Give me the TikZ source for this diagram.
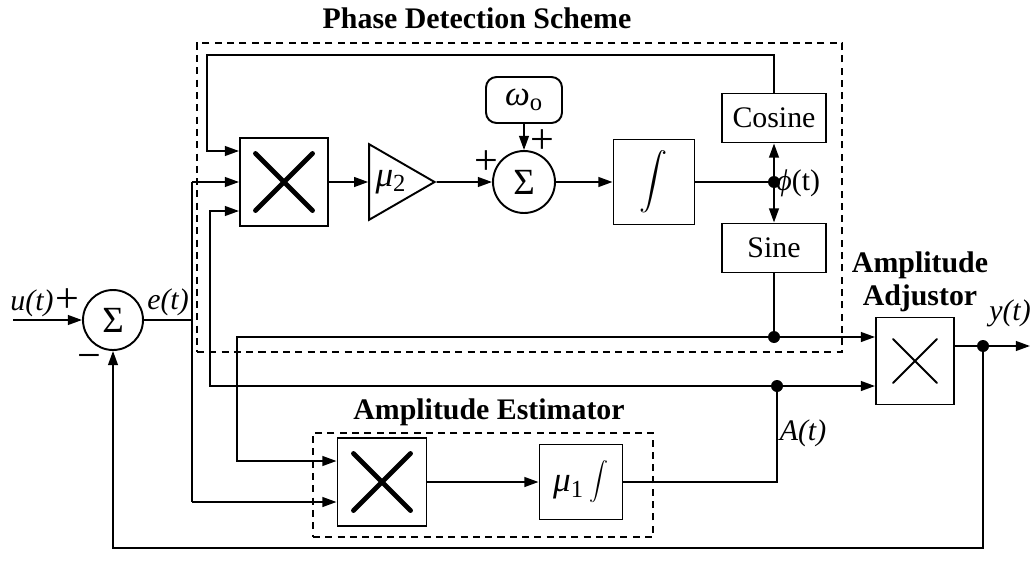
\documentclass[tikz,border=0pt]{standalone}
\usepackage{graphicx}
\usepackage{fontspec}
\setmainfont{Liberation Serif}
\usetikzlibrary{shapes.geometric,arrows.meta,fit,positioning,calc}
\tikzset{
  block/.style={
    shape = rectangle,
    draw,
    line width=1.1pt,
    inner sep=0pt,
    },
  adder/.style={
    circle,
    draw,
    line width=1.1pt,
    inner sep=0pt,
    font=\fontsize{21}{21}\selectfont,
    },
  gain/.style={
    regular polygon,
    regular polygon sides=3,
    shape border rotate=-90,
    draw,
    line width=1.1pt,
    inner sep=0pt,
    minimum size=1.74cm,
    },
  cross/.style 2 args={
    path picture={
      \draw[line width=#2,line cap=round]
        ([shift={(-#1,#1)}]path picture bounding box.center) --
        ([shift={(#1,-#1)}]path picture bounding box.center)
        ([shift={(-#1,-#1)}]path picture bounding box.center) --
        ([shift={(#1,#1)}]path picture bounding box.center);
    },
  },
  group box/.style={
    draw,
    dashed,
    dash pattern=on 4pt off 3pt,
    line width=1pt,
    inner sep=0pt,
    },
  sign/.style={
    font=\fontsize{24}{24}\selectfont,
    inner sep=0pt,
    },
}
\tikzstyle{Sig} = [-{Triangle[length=8pt,width=5.5pt]},line width=1.1pt]
\tikzstyle{Wire} = [line width=1.1pt]
\tikzstyle{Title} = [font=\fontsize{17}{19}\selectfont\bfseries]

\begin{document}
\begin{tikzpicture}[x=0.02cm,y=-0.02cm,font=\fontsize{17}{19}\selectfont]
    \useasboundingbox (0,0) rectangle (1035,585);

    % Groups
    \node[group box,fit={(197,43) (842,352)}] (phase) {};
    \node[group box,fit={(313,433) (653,537)}] (estim) {};

    \node[Title] (phtitle) at (477,18) {Phase Detection Scheme};
    \node[Title] (estitle) at (489,412) {Amplitude Estimator};
    \node[Title,align=center,font=\fontsize{17}{18.7}\selectfont\bfseries] (adtitle) at (920,282) {Amplitude\\Adjustor};

    % Blocks
    \node[adder,minimum size=1.2cm] (sumA) at (113,320) {Σ};

    \node[block,cross={0.57cm}{2.8pt},minimum width=1.76cm,minimum height=1.76cm] (multP) at (284,182) {};
    \node[gain] (gain) at (391,182) {\fontsize{20}{20}\selectfont\textit{μ}\textsubscript{2}};
    \node[adder,minimum size=1.24cm] (sumB) at (524,182) {Σ};
    \node[block,rounded corners=6pt,minimum width=1.52cm,minimum height=0.92cm] (omega) at (524,100) {\fontsize{20}{20}\selectfont\textit{ω}\textsubscript{o}};
    \node[block,minimum width=1.62cm,minimum height=1.7cm] (integ) at (654,182) {\scalebox{1.6}{$\displaystyle\int$}};
    \node[block,minimum width=2.08cm,minimum height=0.98cm] (cosine) at (774,118) {Cosine};
    \node[block,minimum width=2.08cm,minimum height=0.98cm] (sine) at (774,248) {Sine};

    \node[block,cross={0.57cm}{2.8pt},minimum width=1.78cm,minimum height=1.76cm] (multA) at (382,482) {};
    \node[block,minimum width=1.66cm,minimum height=1.5cm] (intA) at (581,482) {\fontsize{20}{20}\selectfont\textit{μ}\textsubscript{1}\,\scalebox{1.08}{$\displaystyle\int$}};

    \node[block,cross={0.44cm}{1.1pt},minimum width=1.56cm,minimum height=1.74cm] (adjust) at (915,361) {};

    % Junctions
    \coordinate (uin) at (13,320);
    \coordinate (ej) at (192,320);
    \coordinate (etop) at (192,182);
    \coordinate (ebot) at (192,502);
    \coordinate (atop) at (210,211);
    \coordinate (abot) at (210,386);
    \coordinate (stop) at (237,337);
    \coordinate (sbot) at (237,461);
    \coordinate (ctop) at (207,55);
    \coordinate (cin) at (207,151);
    \coordinate (phidot) at (774,182);
    \coordinate (sdot) at (774,337);
    \coordinate (adot) at (777,386);
    \coordinate (ydot) at (983,346);
    \coordinate (yout) at (1030,346);
    \coordinate (fbr) at (983,548);
    \coordinate (fbl) at (113,548);

    % Labels
    \node (ulab) at (32,303) {\textit{u(t)}};
    \node[sign] (uplus) at (67,301) {+};
    \node (elab) at (168,302) {\textit{e(t)}};
    \node[sign] (minus) at (89,362) {−};
    \node[sign] (plusL) at (486,163) {+};
    \node[sign] (plusT) at (542,142) {+};
    \node[anchor=west,inner sep=0pt] (philab) at (776,183) {\textit{ϕ}(t)};
    \node (ylab) at (1010,313) {\textit{y(t)}};
    \node (alab) at (803,433) {\textit{A(t)}};

    % Phase loop
    \draw[Sig] (uin) -- (sumA);
    \draw[Wire] (sumA) -- (ej);
    \draw[Wire] (etop) -- (ebot);
    \draw[Sig] (etop) -- (multP.west);
    \draw[Sig] (ebot) -- (multA.west |- ebot);
    \draw[Sig] (cosine.north) |- (ctop) -- (cin) -- (multP.west |- cin);
    \draw[Sig] (multP) -- (gain);
    \draw[Sig] (gain) -- (sumB);
    \draw[Sig] (omega) -- (sumB);
    \draw[Sig] (sumB) -- (integ);
    \draw[Wire] (integ) -- (phidot);
    \draw[Sig] (phidot) -- (cosine);
    \draw[Sig] (phidot) -- (sine);

    % Sine and amplitude
    \draw[Wire] (sine) -- (sdot);
    \draw[Sig] (sdot) -- (stop) -- (sbot) -- (multA.west |- sbot);
    \draw[Sig] (sdot) -- (adjust.west |- sdot);
    \draw[Sig] (multA) -- (intA);
    \draw[Wire] (intA.east) -| (adot);
    \draw[Sig] (adot) -- (abot) -- (atop) -- (multP.west |- atop);
    \draw[Sig] (adot) -- (adjust.west |- adot);

    % Output and feedback
    \draw[Wire] (adjust.east |- ydot) -- (ydot);
    \draw[Sig] (ydot) -- (yout);
    \draw[Sig] (ydot) -- (fbr) -- (fbl) -- (sumA);

    \fill (phidot) circle (0.12cm);
    \fill (sdot) circle (0.12cm);
    \fill (adot) circle (0.12cm);
    \fill (ydot) circle (0.12cm);

\end{tikzpicture}
\end{document}
